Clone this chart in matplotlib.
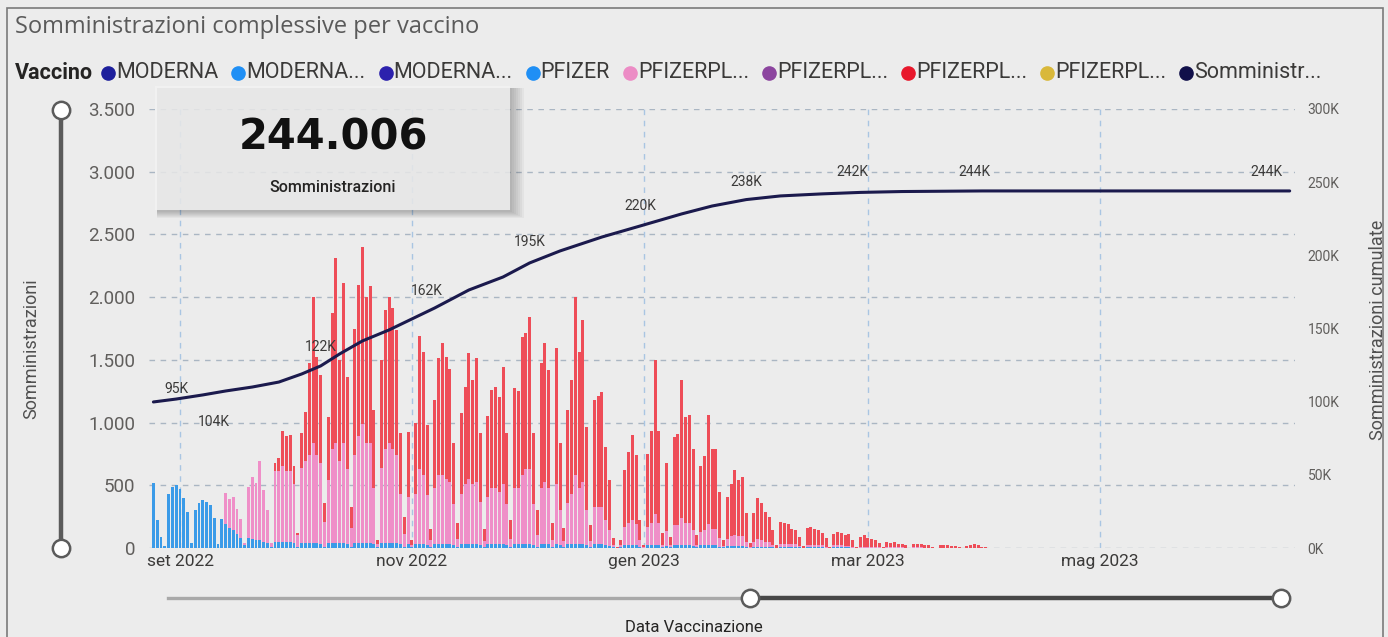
import datetime as dt

import matplotlib
matplotlib.use('Agg')
import matplotlib.dates as mdates
from matplotlib import pyplot as plt
from matplotlib.lines import Line2D
from matplotlib.patches import Rectangle
from matplotlib.ticker import FuncFormatter
import numpy as np

plt.rcParams['font.family'] = ['Roboto', 'DejaVu Sans']

W, H = 1388, 637

# ---------------- data (daily, from 25 Aug 2022) ----------------
first_day = dt.date(2022, 8, 25)

# daily total of all vaccines (top of stacked bar)
totale = [
    520, 220, 90, 15,
    430, 490, 500, 470, 400, 290, 40,
    300, 360, 380, 370, 340, 240, 30,
    230, 440, 390, 410, 310, 230, 40,
    490, 570, 520, 690, 460, 300, 40,
    680, 720, 930, 890, 900, 650, 120,
    915, 1085, 1475, 2000, 1525, 1380, 360,
    1045, 1870, 2310, 1500, 2110, 1365, 330,
    1750, 2100, 2400, 2000, 2090, 1100, 60,
    1500, 1900, 2000, 1915, 1740, 915, 250,
    925, 60, 1000, 1690, 1560, 980, 150,
    1180, 1515, 1635, 1520, 1430, 835, 200,
    1075, 1285, 1555, 1340, 1515, 915, 150,
    1050, 1260, 1285, 1200, 1445, 920, 220,
    1275, 1250, 1685, 1715, 1845, 920, 300,
    1475, 1635, 1420, 200, 1595, 840, 160,
    1100, 1340, 2000, 1565, 1820, 965, 180,
    1180, 1210, 1240, 805, 540, 80, 5,
    60, 620, 765, 900, 740, 220, 20,
    750, 930, 1500, 930, 120, 680, 90,
    885, 910, 1340, 1045, 1060, 790, 100,
    650, 730, 1060, 790, 790, 450, 60,
    410, 510, 620, 540, 570, 280, 40,
    280, 400, 360, 290, 250, 140, 20,
    210, 200, 190, 150, 140, 90, 15,
    160, 170, 150, 140, 120, 80, 10,
    110, 130, 120, 100, 110, 60, 10,
    90, 100, 80, 70, 60, 40, 5,
    50, 40, 45, 35, 30, 20, 3,
    30, 35, 30, 25, 20, 10, 2,
    20, 25, 20, 15, 15, 5, 0,
    15, 20, 30, 20, 10, 5, 0,
]

# PFIZER (light blue, bottom of stack)
pfizer = [
    520, 220, 90, 15,
    430, 490, 500, 470, 400, 290, 40,
    300, 360, 380, 370, 340, 240, 30,
    230, 190, 160, 140, 110, 80, 20,
    80, 70, 60, 60, 50, 40, 10,
    50, 50, 50, 50, 50, 40, 10,
    40, 40, 40, 40, 40, 30, 10,
    40, 40, 40, 40, 40, 30, 10,
    40, 40, 40, 40, 40, 30, 5,
    40, 40, 40, 40, 40, 30, 10,
    30, 5, 30, 30, 30, 20, 5,
    30, 30, 30, 30, 30, 20, 5,
    30, 30, 30, 30, 30, 20, 5,
    30, 30, 30, 30, 30, 20, 5,
    30, 30, 30, 30, 30, 20, 5,
    30, 30, 30, 5, 30, 20, 5,
    30, 30, 30, 30, 30, 20, 5,
    30, 30, 30, 20, 15, 5, 0,
    5, 20, 20, 20, 20, 10, 0,
    20, 20, 20, 20, 5, 15, 5,
    20, 20, 20, 20, 20, 15, 5,
    20, 20, 20, 20, 20, 10, 5,
    15, 15, 15, 15, 15, 10, 0,
    10, 10, 10, 10, 10, 5, 0,
    10, 10, 10, 10, 10, 5, 0,
    5, 5, 5, 5, 5, 0, 0,
    5, 5, 5, 5, 5, 0, 0,
    0, 0, 0, 0, 0, 0, 0,
    0, 0, 0, 0, 0, 0, 0,
    0, 0, 0, 0, 0, 0, 0,
    0, 0, 0, 0, 0, 0, 0,
    0, 0, 0, 0, 0, 0, 0,
]

# PFIZERPL... (pink, middle of stack)
pfizer_pl_rosa = [
    0, 0, 0, 0,
    0, 0, 0, 0, 0, 0, 0,
    0, 0, 0, 0, 0, 0, 0,
    0, 250, 230, 270, 200, 150, 20,
    410, 500, 460, 630, 410, 260, 30,
    560, 560, 600, 560, 560, 470, 90,
    600, 650, 700, 800, 700, 650, 200,
    500, 750, 800, 650, 800, 600, 150,
    700, 850, 950, 800, 800, 450, 30,
    600, 750, 800, 750, 700, 400, 100,
    380, 20, 400, 600, 550, 400, 60,
    450, 550, 550, 520, 500, 330, 70,
    400, 480, 520, 480, 500, 350, 50,
    380, 450, 450, 420, 480, 330, 70,
    450, 450, 550, 600, 600, 330, 100,
    450, 500, 450, 60, 480, 280, 50,
    330, 400, 550, 450, 500, 280, 50,
    300, 300, 300, 200, 130, 20, 0,
    15, 150, 180, 200, 170, 50, 5,
    150, 180, 250, 180, 20, 120, 15,
    160, 160, 220, 180, 180, 130, 15,
    110, 120, 170, 130, 130, 70, 10,
    60, 80, 90, 80, 80, 40, 5,
    40, 60, 50, 40, 40, 20, 3,
    25, 25, 20, 20, 20, 10, 2,
    20, 20, 15, 15, 15, 10, 0,
    15, 15, 15, 10, 10, 5, 0,
    10, 10, 10, 5, 5, 5, 0,
    5, 5, 5, 5, 5, 0, 0,
    5, 5, 5, 0, 0, 0, 0,
    0, 0, 0, 0, 0, 0, 0,
    0, 0, 0, 0, 0, 0, 0,
]

# cumulative administrations (right axis)
cum_dates = ['2022-08-25', '2022-08-31', '2022-09-07', '2022-09-13', '2022-09-20',
             '2022-09-27', '2022-10-03', '2022-10-08', '2022-10-13', '2022-10-19',
             '2022-10-26', '2022-11-01', '2022-11-07', '2022-11-16', '2022-11-25',
             '2022-12-02', '2022-12-10', '2022-12-21', '2022-12-31', '2023-01-11',
             '2023-01-19', '2023-01-28', '2023-02-06', '2023-02-17', '2023-02-27',
             '2023-03-10', '2023-03-31', '2023-06-20']
cum_values = [99800, 101800, 104600, 107300, 110000,
              113400, 118900, 124400, 132600, 141500,
              149000, 156500, 164000, 176300, 185200,
              194800, 203000, 212500, 220000, 228300,
              233700, 238100, 240600, 242000, 243000,
              243600, 244000, 244006]

label_dates = ['2022-08-31', '2022-09-10', '2022-10-08', '2022-11-05', '2022-12-02',
               '2022-12-31', '2023-01-28', '2023-02-25', '2023-03-29', '2023-06-14']
label_texts = ['95K', '104K', '122K', '162K', '195K', '220K', '238K', '242K',
               '244K', '244K']

legend_labels = ['MODERNA', 'MODERNA...', 'MODERNA...', 'PFIZER', 'PFIZERPL...',
                 'PFIZERPL...', 'PFIZERPL...', 'PFIZERPL...', 'Somministr...']
legend_colors = ['#1d1f9c', '#1f8ff5', '#2c21ad', '#1f8ff5', '#ec8cc5',
                 '#8c459f', '#e8182c', '#d9b83a', '#11104a']

total_value = '244.006'
mesi = ['gen', 'feb', 'mar', 'apr', 'mag', 'giu', 'lug', 'ago', 'set', 'ott',
        'nov', 'dic']

# ---------------- styling helpers ----------------
bg = '#ececec'
grey_txt = '#605e5c'


def fx(x):
    return x / W


def fy(y):
    return 1 - y / H


fig = plt.figure(figsize=(W / 100, H / 100), dpi=100, facecolor=bg)
renderer = fig.canvas.get_renderer()

ax = fig.add_axes([fx(149), fy(548), (1295 - 149) / W, 439 / H])
ax.set_facecolor('none')

x_days = mdates.date2num(first_day) + np.arange(len(totale))
tot = np.array(totale, dtype=float)
blu = np.array(pfizer, dtype=float)
rosa = np.array(pfizer_pl_rosa, dtype=float)
rosso = tot - blu - rosa

bw = 0.78
ax.bar(x_days, blu, width=bw, color='#3b9be8', linewidth=0, zorder=3)
ax.bar(x_days, rosa, width=bw, bottom=blu, color='#ef8fc8', linewidth=0, zorder=3)
ax.bar(x_days, rosso, width=bw, bottom=blu + rosa, color='#ee4d58',
       linewidth=0, zorder=3)

sep1 = mdates.date2num(dt.date(2022, 9, 1))
ax.set_xlim(sep1 - 8.16, sep1 + 293.4)
ax.set_ylim(0, 3500)
ax.set_yticks(np.arange(0, 3501, 500))
ax.yaxis.set_major_formatter(FuncFormatter(lambda v, p: f'{int(v):,}'.replace(',', '.')))

tick_dates = [dt.date(2022, 9, 1), dt.date(2022, 11, 1), dt.date(2023, 1, 1),
              dt.date(2023, 3, 1), dt.date(2023, 5, 1)]
ax.set_xticks(mdates.date2num(tick_dates))
ax.set_xticklabels([f'{mesi[d.month - 1]} {d.year}' for d in tick_dates])

ax.set_axisbelow(True)
ax.yaxis.grid(True, color='#aab6c3', linestyle=(0, (4, 4)), linewidth=1)
ax.xaxis.grid(True, color='#a9c5e2', linestyle=(0, (4, 4)), linewidth=1)
for s in ax.spines.values():
    s.set_visible(False)
ax.tick_params(axis='y', length=0, pad=10, labelsize=13.5, labelcolor=grey_txt)
ax.tick_params(axis='x', length=0, pad=4, labelsize=12.5, labelcolor='#3b3a39')

# cumulative line on the right axis
ax2 = ax.twinx()
ax2.set_ylim(0, 300000)
ax2.set_yticks(np.arange(0, 300001, 50000))
ax2.yaxis.set_major_formatter(FuncFormatter(lambda v, p: f'{v / 1000:.0f}K'))
for s in ax2.spines.values():
    s.set_visible(False)
ax2.tick_params(axis='y', length=0, pad=9, labelsize=10, labelcolor=grey_txt)
cum_x = mdates.date2num([dt.date.fromisoformat(d) for d in cum_dates])
ax2.plot(cum_x, cum_values, color='#1b1a4d', lw=2.2, zorder=5,
         solid_capstyle='round')

label_dy = [10, -29, 19, 21, 21, 20, 18, 21, 19, 19]
lab_x = mdates.date2num([dt.date.fromisoformat(d) for d in label_dates])
for lx, txt, dy in zip(lab_x, label_texts, label_dy):
    ly = np.interp(lx, cum_x, cum_values)
    ax2.annotate(txt, (lx, ly), xytext=(0, dy), textcoords='offset pixels',
                 ha='center', va='center', fontsize=10, color='#3b3a39', zorder=6)

# axis titles
fig.text(fx(31), fy(349), 'Somministrazioni', rotation=90, ha='center',
         va='center', fontsize=13, color='#505050')
fig.text(fx(1378), fy(330), 'Somministrazioni cumulate', rotation=90,
         ha='center', va='center', fontsize=13, color='#505050')
fig.text(fx(694), fy(627), 'Data Vaccinazione', ha='center', va='center',
         fontsize=12, color='#252423')

# title
fig.text(fx(15), fy(27), 'Somministrazioni complessive per vaccino', ha='left',
         va='center', fontsize=17, family=['Open Sans', 'DejaVu Sans'],
         color='#5a5a5a')

# legend row, laid out left to right
leg_y = 73
leg_fs = 15.5
x = 15.0
t = fig.text(fx(x), fy(leg_y), 'Vaccino', ha='left', va='center',
             fontsize=leg_fs, weight='bold', color='#252423')
x += t.get_window_extent(renderer).width + 9
for lab, col in zip(legend_labels, legend_colors):
    fig.add_artist(Line2D([fx(x + 6)], [fy(leg_y)], marker='o', ms=9.5,
                          color=col, transform=fig.transFigure))
    t = fig.text(fx(x + 14), fy(leg_y), lab, ha='left', va='center',
                 fontsize=leg_fs, color='#3b3a39')
    x += 14 + t.get_window_extent(renderer).width + 14

# sliders (vertical on the left, horizontal at the bottom)
fig.add_artist(Line2D([fx(61), fx(61)], [fy(110), fy(548)], color='#5b5b5b',
                      lw=3.2, transform=fig.transFigure))
fig.add_artist(Line2D([fx(168), fx(750)], [fy(598), fy(598)], color='#a9a9a9',
                      lw=2.4, transform=fig.transFigure))
fig.add_artist(Line2D([fx(750), fx(1281)], [fy(598), fy(598)], color='#474747',
                      lw=3.2, transform=fig.transFigure))
for cx, cy in [(61, 110), (61, 548), (750, 598), (1281, 598)]:
    fig.add_artist(Line2D([fx(cx)], [fy(cy)], marker='o', ms=12.5,
                          markerfacecolor='white', markeredgecolor='#5b5b5b',
                          markeredgewidth=1.8, transform=fig.transFigure,
                          zorder=4))

# card with shadow
c_x0, c_y0, c_x1, c_y1 = 155, 86, 510, 210
for i in range(7):
    fig.add_artist(Rectangle((fx(c_x0 + 2), fy(c_y1 + 2 + i)),
                             (c_x1 - c_x0 + 2 * i) / W,
                             (c_y1 - c_y0 + i) / H,
                             transform=fig.transFigure, facecolor='#000000',
                             alpha=0.035, edgecolor='none', zorder=7))
fig.add_artist(Rectangle((fx(c_x0), fy(c_y1)), (c_x1 - c_x0) / W,
                         (c_y1 - c_y0) / H, transform=fig.transFigure,
                         facecolor='#f3f3f3', alpha=0.82, edgecolor='none',
                         zorder=8))
fig.text(fx(333), fy(137), total_value, ha='center', va='center', fontsize=30,
         weight='bold', family='DejaVu Sans', color='#111111', zorder=9)
fig.text(fx(333), fy(187), 'Somministrazioni', ha='center', va='center',
         fontsize=11.5, weight='medium', color='#252423', zorder=9)

# outer frame
fig.add_artist(Rectangle((fx(7), fy(640)), (1383 - 7) / W, (640 - 8) / H,
                         transform=fig.transFigure, facecolor='none',
                         edgecolor='#7a7a7a', lw=1.2, zorder=10))

fig.savefig('out.png', dpi=100, facecolor=bg)
